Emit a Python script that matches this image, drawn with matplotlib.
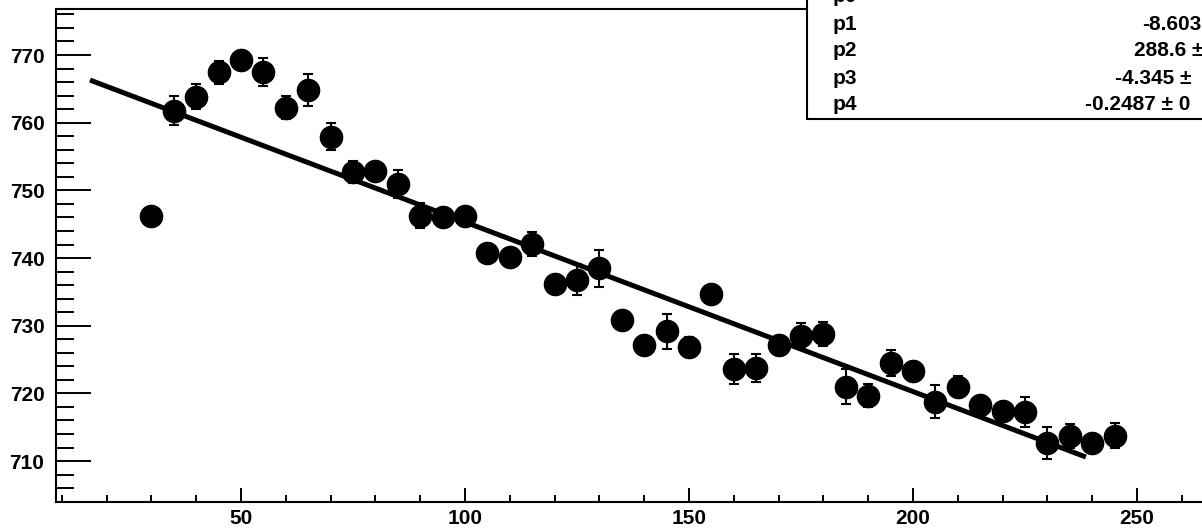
import matplotlib
matplotlib.use("Agg")
import matplotlib.pyplot as plt
from matplotlib.patches import Rectangle
from matplotlib.ticker import MultipleLocator

plt.rcParams['font.family'] = ['Liberation Sans', 'DejaVu Sans']
plt.rcParams['font.weight'] = 'bold'

# data points
x = [30, 35, 40, 45, 50, 55, 60, 65, 70, 75, 80, 85, 90, 95, 100,
     105, 110, 115, 120, 125, 130, 135, 140, 145, 150, 155, 160, 165,
     170, 175, 180, 185, 190, 195, 200, 205, 210, 215, 220, 225, 230,
     235, 240, 245]
y = [746.2, 761.8, 763.85, 767.44, 769.26, 767.54, 762.22, 764.83, 757.93,
     752.76, 752.8, 750.94, 746.26, 746.05, 746.15, 740.8, 740.15, 742.1,
     736.2, 736.8, 738.5, 730.8, 727.2, 729.15, 726.9, 734.7, 723.6, 723.75,
     727.1, 728.55, 728.75, 721.0, 719.65, 724.5, 723.25, 718.8, 721.0,
     718.3, 717.4, 717.2, 712.65, 713.75, 712.65, 713.75]
yerr = [1.2, 2.1, 1.87, 1.67, 1.3, 2.07, 1.67, 2.36, 2.0, 1.6, 1.3, 2.0,
        1.87, 1.2, 1.2, 1.2, 1.2, 1.8, 1.2, 2.3, 2.73, 1.3, 1.3, 2.54, 1.4,
        1.2, 2.2, 2.1, 1.4, 1.9, 1.8, 2.6, 1.7, 1.87, 1.4, 2.4, 1.6, 1.2,
        1.2, 2.2, 2.4, 1.8, 1.3, 1.87]

# fitted curve (drawn as a straight line over the fit range)
fit_x = [16.3, 238.6]
fit_y = [766.3, 710.6]

# stats box entries
par_names = ['p0', 'p1', 'p2', 'p3', 'p4']
par_vals = ['', '-8.603', '288.6 \u00b1', '-4.345 \u00b1', '-0.2487 \u00b1 0']

W, H = 1202, 529
fig = plt.figure(figsize=(W / 100, H / 100), dpi=100)
ax = fig.add_axes([55.5 / W, 27.3 / H, (1226.6 - 55.5) / W, (501.7 - 9) / H])

ax.plot(fit_x, fit_y, color='black', lw=3.6, solid_capstyle='butt', zorder=2)
ax.errorbar(x, y, yerr=yerr, fmt='o', color='black', ms=16,
            elinewidth=1.5, capsize=3.6, capthick=1.5, zorder=3)

ax.set_xlim(8.6, 270)
ax.set_ylim(704.0, 776.8)

ax.xaxis.set_major_locator(MultipleLocator(50))
ax.xaxis.set_minor_locator(MultipleLocator(10))
ax.yaxis.set_major_locator(MultipleLocator(10))
ax.yaxis.set_minor_locator(MultipleLocator(2))

ax.tick_params(axis='both', which='both', direction='in', width=1.4,
               labelsize=15, colors='black')
ax.tick_params(axis='x', which='major', length=10, pad=5)
ax.tick_params(axis='x', which='minor', length=5)
ax.tick_params(axis='y', which='major', length=25, pad=8)
ax.tick_params(axis='y', which='minor', length=13)
for lab in ax.get_xticklabels() + ax.get_yticklabels():
    lab.set_fontweight('bold')
for sp in ax.spines.values():
    sp.set_linewidth(1.5)

# stats box, partly outside the picture
box_left = 807
box_bottom = 119
fig.add_artist(Rectangle((box_left / W, (H - box_bottom) / H), 0.5, 0.5,
                         transform=fig.transFigure, facecolor='white',
                         edgecolor='black', lw=1.5, zorder=10))
row_y = [-4, 24, 51, 78, 105]
val_x = [1210, 1142, 1134, 1115, 1085]
for name, val, ry, vx in zip(par_names, par_vals, row_y, val_x):
    fig.text(833 / W, (H - ry) / H, name, ha='left', va='center',
             fontsize=15, fontweight='bold', zorder=11)
    if val:
        fig.text(vx / W, (H - ry) / H, val, ha='left', va='center',
                 fontsize=15, fontweight='bold', zorder=11)

fig.savefig('out.png', dpi=100)
